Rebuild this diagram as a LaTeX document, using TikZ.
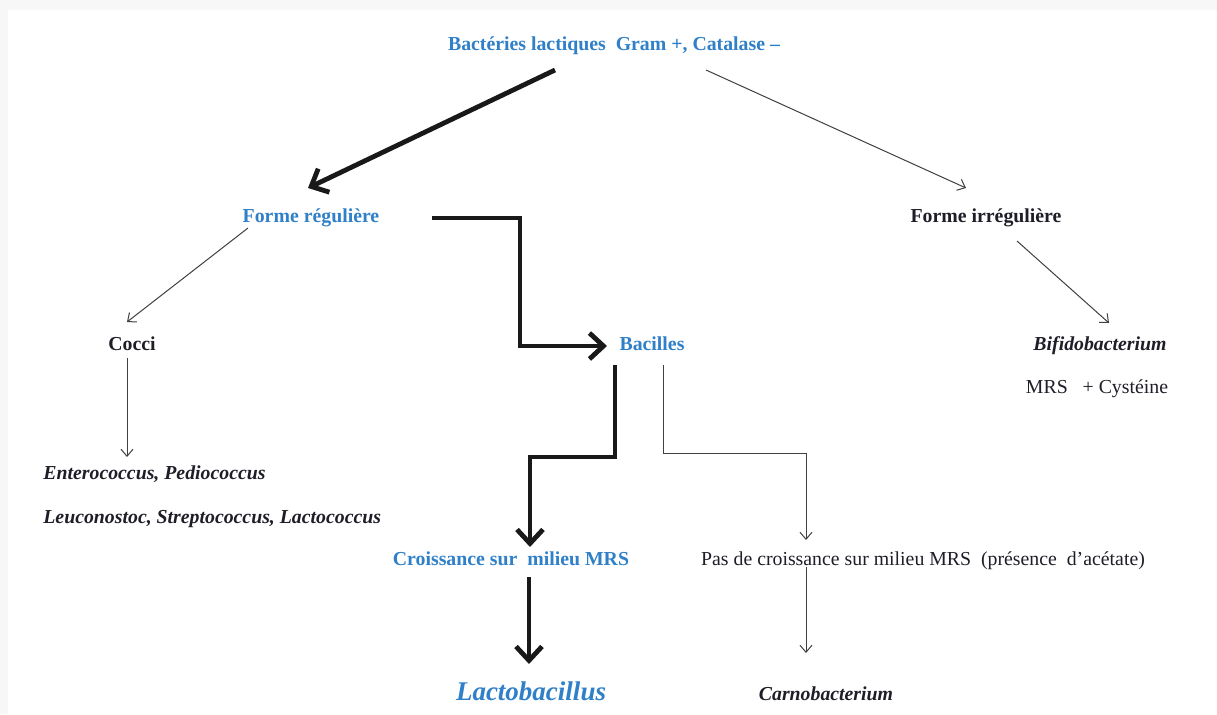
\documentclass[tikz,border=0pt]{standalone}
\usepackage{fontspec}
\setmainfont{Liberation Serif}
\usetikzlibrary{positioning, calc, arrows.meta}
\definecolor{lBlue}{HTML}{2F80C8}
\definecolor{lInk}{HTML}{1E1E28}
\tikzset{
    Arrow/.style = {
        draw=black!75, line width=0.5pt,
        -{Straight Barb[length=3.5pt, width=6pt]}
    },
    BigArrow/.style = {
        draw=black!90, line width=2.4pt,
        -{Straight Barb[length=7pt, width=13pt]}
    },
    Label/.style = {inner sep=0pt, anchor=base, text=lInk, font=\fontsize{9.9}{12}\selectfont},
    BoldLabel/.style = {Label, font=\fontsize{9.9}{12}\selectfont\bfseries},
    BlueLabel/.style = {BoldLabel, text=lBlue},
    Genus/.style = {Label, font=\fontsize{9.9}{12}\selectfont\bfseries\itshape}
}

\begin{document}
\begin{tikzpicture}[x=0.5pt, y=-0.5pt]
    % frame
    \useasboundingbox (0,0) rectangle (1217,714);
    \fill[gray!6] (0,0) rectangle (1217,714);
    \fill[white] (8,10) rectangle (1217,714);

    \node [BlueLabel] (top) at (614,50) {Bactéries lactiques\ \ Gram +, Catalase –};
    \node [BlueLabel] (reg) at (311,222) {Forme régulière};
    \node [BoldLabel] (irr) at (986,222) {Forme irrégulière};
    \node [BoldLabel] (cocci) at (132,350) {Cocci};
    \node [BlueLabel] (bac) at (652,350) {Bacilles};
    \node [Genus] (bif) at (1100,350) {Bifidobacterium};
    \node [Label] (cys) at (1097,393) {MRS\ \ \ + Cystéine};
    \node [Genus, anchor=base west] (ent) at (43,479) {Enterococcus, Pediococcus};
    \node [Genus, anchor=base west] (leu) at (43,523) {Leuconostoc, Streptococcus, Lactococcus};
    \node [BlueLabel] (cro) at (511,565) {Croissance sur\ \ milieu MRS};
    \node [Label] (pas) at (923,565) {Pas de croissance sur milieu MRS\ \ (présence\ \ d’acétate)};
    \node [Genus, text=lBlue, font=\fontsize{13.5}{16}\selectfont\bfseries\itshape] (lac) at (531,700) {Lactobacillus};
    \node [Genus] (car) at (826,700) {Carnobacterium};

    % main branch
    \draw [BigArrow] ($(top.base)+(-59,20)$) -- ($(reg.base)+(-3,-34)$);
    \draw [BigArrow] ($(reg.base)+(121,-4)$) -- ++(88,0) |- ($(bac.base)+(-45,-4)$);
    \draw [BigArrow] ($(bac.base)+(-37,15)$) -- ++(0,92) -| ($(cro.base)+(19,-18)$);
    \draw [BigArrow] ($(cro.base)+(18,12)$) -- ($(lac.base)+(-2,-36)$);

    % other branches
    \draw [Arrow] ($(top.base)+(92,20)$) -- ($(irr.base)+(-20,-34)$);
    \draw [Arrow] ($(reg.base)+(-63,6)$) -- ($(cocci.base)+(-5,-28)$);
    \draw [Arrow] ($(cocci.base)+(-5,8)$) -- ($(ent.base west)+(84,-22)$);
    \draw [Arrow] ($(irr.base)+(31,19)$) -- ($(bif.base)+(9,-27)$);
    \draw [Arrow] ($(bac.base)+(11,15)$) -- ++(0,88) -| ($(pas.base)+(-117,-25)$);
    \draw [Arrow] ($(pas.base)+(-117,2)$) -- ($(car.base)+(-20,-47)$);
\end{tikzpicture}
\end{document}
